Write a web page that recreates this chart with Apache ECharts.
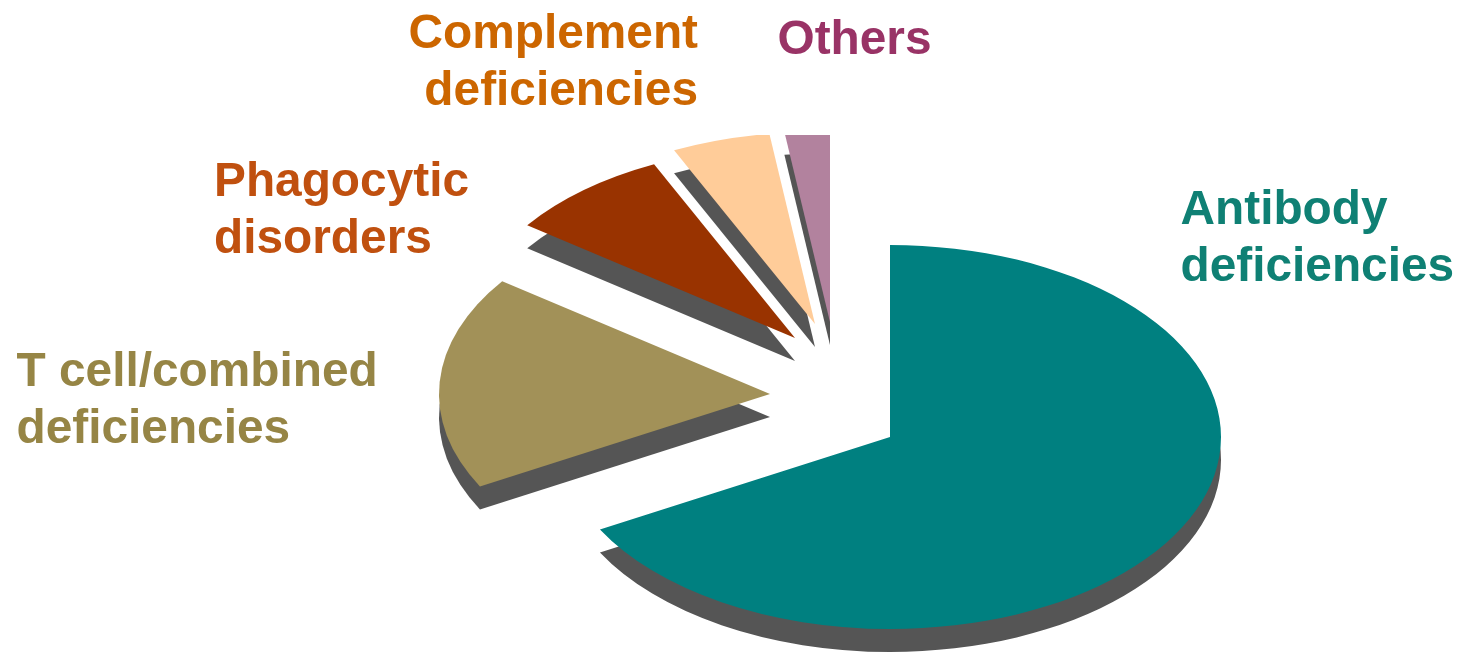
<!DOCTYPE html>
<html>
<head>
<meta charset="utf-8">
<title>Primary immunodeficiencies</title>
<script src="https://cdn.jsdelivr.net/npm/echarts@6/dist/echarts.min.js"></script>
<style>html,body{margin:0;padding:0;background:#fff}#c{width:1466px;height:652px}</style>
</head>
<body>
<div id="c"></div>
<script>
// Data
var categories = ['Antibody\ndeficiencies', 'T cell/combined\ndeficiencies', 'Phagocytic\ndisorders', 'Complement\ndeficiencies', 'Others'];
var shares = [67, 18, 8, 4.8, 2.2];

// Styling and layout (separate from the data)
var sliceColors = ['#008080', '#A29158', '#993300', '#FFCC99', '#B2829E'];
var labelColors = ['#0F8074', '#968545', '#C0500F', '#CC6600', '#993366'];
var apexX = [890, 770, 795, 815, 830];
var apexY = [437, 394, 338, 324, 322];
var labelX = [1180.5, 16.5, 214, 698, 777.5];
var labelY = [182, 344, 154, 6, 12];
var labelAlign = ['left', 'left', 'left', 'right', 'left'];
var RX = 331, RY = 192, DEPTH = 23, SHADOW = '#555555', TOP_CLIP = 135;

var total = shares.reduce(function (a, b) { return a + b; }, 0);
function startAngle(idx) {
  var sum = 0;
  for (var i = 0; i < idx; i++) sum += shares[i];
  return -Math.PI / 2 + sum / total * Math.PI * 2;
}
function wedge(idx, value, dy, fill) {
  var s = RY / RX, a0 = startAngle(idx), y0 = apexY[idx] + dy;
  return {
    type: 'sector',
    x: apexX[idx], y: y0, scaleY: s,
    shape: { cx: 0, cy: 0, r0: 0, r: RX, startAngle: a0, endAngle: a0 + value / total * Math.PI * 2, clockwise: true },
    clipPath: { type: 'rect', shape: { x: -2000, y: (TOP_CLIP - y0) / s, width: 4000, height: 4000 } },
    style: { fill: fill }
  };
}
var seriesData = shares.map(function (v, i) { return { name: categories[i], value: [v, i] }; });

var chart = echarts.init(document.getElementById('c'), null, { renderer: 'canvas' });
chart.setOption({
  animation: false,
  backgroundColor: '#ffffff',
  series: [
    {
      type: 'custom', coordinateSystem: 'none', z: 1, silent: true,
      data: seriesData,
      renderItem: function (params, api) {
        return wedge(api.value(1), api.value(0), DEPTH, SHADOW);
      }
    },
    {
      type: 'custom', coordinateSystem: 'none', z: 2, silent: true,
      data: seriesData,
      renderItem: function (params, api) {
        var i = api.value(1);
        return {
          type: 'group',
          children: [
            wedge(i, api.value(0), 0, sliceColors[i]),
            {
              type: 'text', x: labelX[i], y: labelY[i],
              style: {
                text: categories[i], fill: labelColors[i],
                font: 'bold 47.8px "Liberation Sans", Arial, sans-serif',
                lineHeight: 57.5, align: labelAlign[i], verticalAlign: 'top'
              }
            }
          ]
        };
      }
    }
  ]
});
</script>
</body>
</html>
